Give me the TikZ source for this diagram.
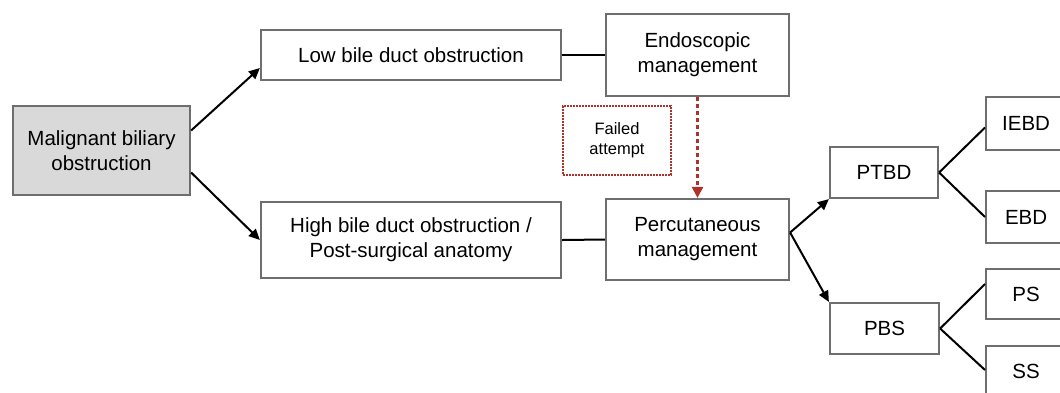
\documentclass[tikz,border=0pt]{standalone}
\usepackage{fontspec}
\setmainfont{Liberation Sans}
\usetikzlibrary{arrows.meta}
\definecolor{boxgray}{HTML}{D9D9D9}
\definecolor{edge}{HTML}{6E6E6E}
\definecolor{failred}{HTML}{B0302A}
\begin{document}
\begin{tikzpicture}[x=1pt,y=-1pt,
  box/.style={draw=edge,line width=2.2pt,fill=white,align=center,inner sep=0pt,font=\fontsize{20.5}{25}\selectfont},
  conn/.style={line width=2pt,black},
  arr/.style={conn,-{Triangle[length=11pt,width=10pt]}},
  failbox/.style={draw=failred,densely dotted,line width=2pt,align=center,font=\fontsize{16.5}{20}\selectfont},
  failarr/.style={draw=failred,dashed,dash pattern=on 4pt off 3pt,line width=2.4pt,-{Triangle[length=11pt,width=11pt]}}]
\useasboundingbox (0,0) rectangle (1060,392);
\begin{scope}
\clip (0,0) rectangle (1060,392);
\node[box,fill=boxgray,minimum width=177pt,minimum height=89pt] (mal) at (101.5,150.5) {Malignant biliary\\obstruction};
\node[box,minimum width=300pt,minimum height=50pt] (low) at (411,55) {Low bile duct obstruction};
\node[box,minimum width=183pt,minimum height=82pt] (endo) at (697.5,55) {Endoscopic\\management};
\node[failbox,minimum width=108pt,minimum height=69pt] (fail) at (617,140.5) {Failed\\attempt};
\node[box,minimum width=300pt,minimum height=76pt] (high) at (411,240) {High bile duct obstruction /\\Post-surgical anatomy};
\node[box,minimum width=183pt,minimum height=81pt] (perc) at (697.5,239.5) {Percutaneous\\management};
\node[box,minimum width=108pt,minimum height=51pt] (ptbd) at (884,172.5) {PTBD};
\node[box,minimum width=109pt,minimum height=51pt] (pbs) at (884.5,328.5) {PBS};
\node[box,minimum width=80pt,minimum height=53pt,anchor=west] (iebd) at (985,123.5) {IEBD};
\node[box,minimum width=80pt,minimum height=52pt,anchor=west] (ebd) at (985,217) {EBD};
\node[box,minimum width=80pt,minimum height=50pt,anchor=west] (ps) at (985,294) {PS};
\node[box,minimum width=80pt,minimum height=50pt,anchor=west] (ss) at (985,371) {SS};
\end{scope}
\coordinate (malA) at ([yshift=20pt]mal.east);
\coordinate (malB) at ([yshift=-22pt]mal.east);
\draw[arr] (malA) -- ([yshift=-13pt]low.west);
\draw[arr] (malB) -- (high.west);
\draw[conn] (low.east) -- (endo.west);
\draw[conn] (high.east) -- (perc.west);
\draw[failarr] (endo.south) -- (perc.north);
\coordinate (percR) at ([yshift=7pt]perc.east);
\draw[arr] (percR) -- (ptbd.south west);
\draw[arr] (percR) -- (pbs.north west);
\draw[conn] (ptbd.east) -- ([yshift=-4pt]iebd.west);
\draw[conn] (ptbd.east) -- (ebd.west);
\draw[conn] (pbs.east) -- ([yshift=10pt]ps.west);
\draw[conn] (pbs.east) -- ([yshift=1pt]ss.west);
\end{tikzpicture}
\end{document}
